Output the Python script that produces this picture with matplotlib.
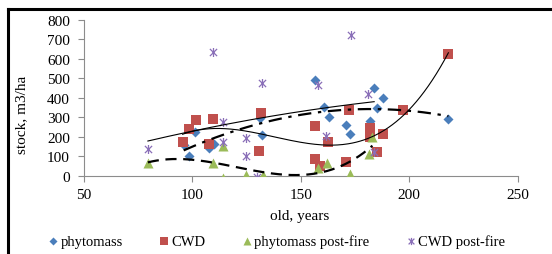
import matplotlib
matplotlib.use("Agg")
import matplotlib.pyplot as plt
import numpy as np
from matplotlib.path import Path
from matplotlib.lines import Line2D

# ---------------- data ----------------
age_phyto = [96, 98.5, 101, 107.5, 110, 131, 132, 156.5, 160.5, 163, 171, 172.5, 182, 183.5, 185, 188, 218]
phyto = [160, 103, 224, 142, 166, 296, 208, 489, 351, 304, 259, 215, 279, 450, 346, 400, 292]

age_cwd = [95.5, 98.5, 101.5, 107.5, 109.5, 130.5, 131.5, 156.5, 156.5, 159, 162.5, 171, 172, 182, 182, 185, 188, 197, 218]
cwd = [176, 238, 288, 164, 291, 126, 323, 255, 87, 53, 174, 73, 336, 248, 198, 124, 214, 338, 625]

age_phyto_pf = [79.5, 109.5, 114, 114, 124.5, 132.5, 158, 162, 172.8, 181.2, 183]
phyto_pf = [68, 68, 155, -8, 7, 3, 42, 65, 8, 114, 198]

age_cwd_pf = [79.5, 109.6, 114, 114, 124.5, 124.5, 129.6, 132.3, 158, 161.8, 172.9, 181, 183.8]
cwd_pf = [136, 635, 274, 176, 194, 104, -7, 476, 466, 205, 721, 420, 124]

xticks = [50, 100, 150, 200, 250]
yticks = [0, 100, 200, 300, 400, 500, 600, 700, 800]

# ---------------- style ----------------
plt.rcParams['font.family'] = ['Liberation Serif', 'DejaVu Serif']
plt.rcParams['font.size'] = 11

c_blue = '#4A7EBB'
c_red = '#C0504D'
c_green = '#9BBB59'
c_purple = '#8A6FB8'
c_axis = '#8C8C8C'

# excel-like asterisk marker: an x with a vertical bar
star = Path([(-1, -1), (1, 1), (-1, 1), (1, -1), (0, -1.25), (0, 1.25)],
            [Path.MOVETO, Path.LINETO, Path.MOVETO, Path.LINETO, Path.MOVETO, Path.LINETO])

fig = plt.figure(figsize=(5.52, 2.55), dpi=100)
ax = fig.add_axes([0.152, 0.306, 0.786, 0.613])

ax.scatter(age_phyto, phyto, marker='D', s=26, color=c_blue, zorder=3, label='phytomass', linewidths=0)
ax.scatter(age_cwd, cwd, marker='s', s=48, color=c_red, zorder=3, label='CWD', linewidths=0)
ax.scatter(age_phyto_pf, phyto_pf, marker='^', s=52, color=c_green, zorder=3, label='phytomass post-fire', linewidths=0)
ax.scatter(age_cwd_pf, cwd_pf, marker=star, s=42, color=c_purple, zorder=3, label='CWD post-fire', linewidths=0.9)

# ---------------- polynomial trendlines (as excel) ----------------
def trend(x, y, deg):
    x = np.asarray(x, float)
    p = np.polyfit(x, np.asarray(y, float), deg)
    xx = np.linspace(x.min(), x.max(), 200)
    return xx, np.polyval(p, xx)

xx, yy = trend(age_phyto, phyto, 2)
ax.plot(xx, yy, color='black', lw=1.6, dashes=(6, 3, 1.5, 3), zorder=4)
xx, yy = trend(age_cwd, cwd, 3)
ax.plot(xx, yy, color='black', lw=0.8, zorder=4)
xx, yy = trend(age_phyto_pf, phyto_pf, 3)
ax.plot(xx, yy, color='black', lw=1.6, dashes=(5, 3), zorder=4)
xx, yy = trend(age_cwd_pf, cwd_pf, 2)
ax.plot(xx, yy, color='black', lw=0.8, zorder=4)

ax.set_xlim(50, 250)
ax.set_ylim(0, 800)
ax.set_xticks(xticks)
ax.set_yticks(yticks)
ax.set_xlabel('old, years')
ax.set_ylabel('stock, m3/ha')
ax.xaxis.set_label_coords(0.498, -0.21)
ax.yaxis.set_label_coords(-0.129, 0.40)

for s in ['top', 'right']:
    ax.spines[s].set_visible(False)
for s in ['left', 'bottom']:
    ax.spines[s].set_color(c_axis)
    ax.spines[s].set_linewidth(0.8)
ax.tick_params(color=c_axis, length=4, width=0.8)
ax.tick_params(axis='y', pad=6)
ax.tick_params(axis='x', pad=5)

ax.legend(loc='center left', bbox_to_anchor=(0.09, 0.051), bbox_transform=fig.transFigure,
          ncol=4, frameon=False, fontsize=10.5, handlelength=0.5, handletextpad=0.25,
          columnspacing=2.58, markerscale=0.8, borderaxespad=0, borderpad=0)

# black frame of the original figure (top and left side)
fig.add_artist(Line2D([0.0145, 1.0], [0.961, 0.961], color='black', lw=2.2))
fig.add_artist(Line2D([0.0145, 0.0145], [0.0, 0.961], color='black', lw=2.2))

fig.savefig('out.png', dpi=100)
